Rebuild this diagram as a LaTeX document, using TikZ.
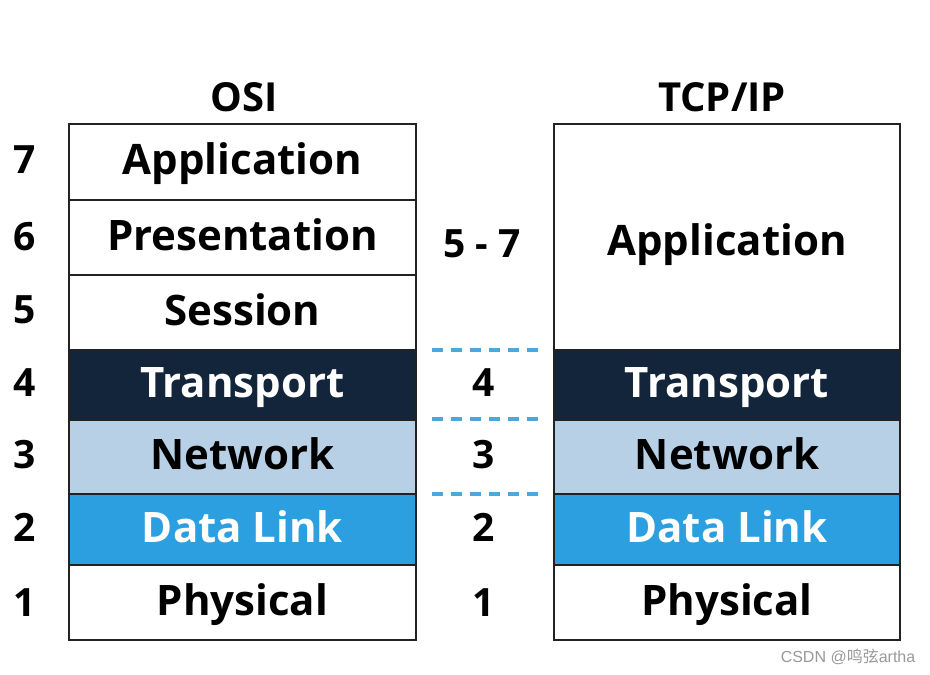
\documentclass[tikz,border=0pt]{standalone}
\usepackage{fontspec}
\setmainfont{Open Sans}
\newfontfamily\cjkfont{Noto Sans CJK SC}
\newfontfamily\wmfont{Liberation Sans}
\definecolor{navy}{HTML}{13253A}
\definecolor{lightblue}{HTML}{B7D0E6}
\definecolor{midblue}{HTML}{2B9FDF}
\definecolor{dashblue}{HTML}{4AA8DD}
\definecolor{edge}{HTML}{222222}
\tikzset{
  layer/.style={draw=edge, line width=2pt, rectangle, inner sep=0pt,
    font=\fontsize{42}{46}\selectfont\bfseries, text=black,
    text height=30pt, text depth=4pt},
  osi/.style={layer, minimum width=347pt},
  tcp/.style={layer, minimum width=346pt},
  numlbl/.style={font=\fontsize{39}{43}\selectfont\bfseries, text=black, inner sep=0pt},
  title/.style={font=\fontsize{40}{44}\selectfont\bfseries, text=black, inner sep=0pt},
  sep/.style={dashblue, line width=3.5pt, dash pattern=on 11pt off 8pt},
}
\begin{document}
\begin{tikzpicture}[x=1pt,y=1pt]
\useasboundingbox[fill=white] (0,0) rectangle (930,675);
% titles
\node[title] (tosi) at (244,578) {OSI};
\node[title] (ttcp) at (722,578) {TCP/IP};
% OSI stack
\node[osi, minimum height=76pt] (o7) at (242.5,513) {Application};
\node[osi, minimum height=75pt] (o6) at (242.5,437.5) {Presentation};
\node[osi, minimum height=75pt] (o5) at (242.5,362.5) {Session};
\node[osi, minimum height=70pt, fill=navy, text=white] (o4) at (242.5,290) {Transport};
\node[osi, minimum height=74pt, fill=lightblue] (o3) at (242.5,218) {Network};
\node[osi, minimum height=71pt, fill=midblue, text=white] (o2) at (242.5,145.5) {Data Link};
\node[osi, minimum height=75pt] (o1) at (242.5,72.5) {Physical};
% TCP/IP stack
\node[tcp, minimum height=226pt, text height=38pt, text depth=0pt] (t4) at (727,438) {Application};
\node[tcp, minimum height=70pt, fill=navy, text=white] (t3) at (727,290) {Transport};
\node[tcp, minimum height=74pt, fill=lightblue] (t2) at (727,218) {Network};
\node[tcp, minimum height=71pt, fill=midblue, text=white] (t1) at (727,145.5) {Data Link};
\node[tcp, minimum height=75pt] (t0) at (727,72.5) {Physical};
% left numbers
\node[numlbl] (n7) at (25,515) {7};
\node[numlbl] (n6) at (25,438) {6};
\node[numlbl] (n5) at (25,365) {5};
\node[numlbl] (n4) at (25,292) {4};
\node[numlbl] (n3) at (25,220) {3};
\node[numlbl] (n2) at (25,148) {2};
\node[numlbl] (n1) at (25,72) {1};
% middle numbers
\node[numlbl] (m57) at (482,431) {5 - 7};
\node[numlbl] (m4) at (484,292) {4};
\node[numlbl] (m3) at (484,220) {3};
\node[numlbl] (m2) at (484,148) {2};
\node[numlbl] (m1) at (484,72) {1};
% dashed separators
\coordinate (d1a) at (432,325); \coordinate (d1b) at (543,325);
\coordinate (d2a) at (432,256); \coordinate (d2b) at (543,256);
\coordinate (d3a) at (432,181); \coordinate (d3b) at (543,181);
\draw[sep] (d1a) -- (d1b);
\draw[sep] (d2a) -- (d2b);
\draw[sep] (d3a) -- (d3b);
% watermark
\node[text=gray!80, font=\fontsize{16}{18}\selectfont\wmfont, inner sep=0pt] (wm) at (848,18) {CSDN @{\cjkfont 鸣弦}artha};
\end{tikzpicture}
\end{document}
